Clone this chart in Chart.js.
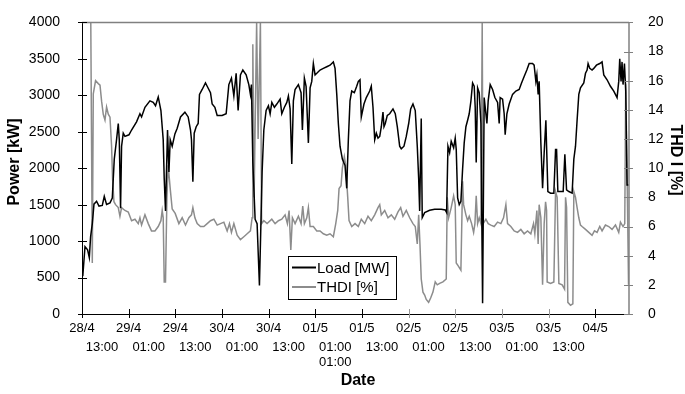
<!DOCTYPE html>
<html><head><meta charset="utf-8">
<script src="https://cdn.jsdelivr.net/npm/chart.js@4.4.1/dist/chart.umd.min.js"></script>
<style>html,body{margin:0;padding:0;background:#fff}#wrap{width:685px;height:394px;position:relative}</style>
</head><body><div id="wrap"><canvas id="c" width="685" height="394"></canvas></div>
<script>
// Hours since 28/4 13:00
const loadHours = [0.2,0.77,1.44,1.88,2.21,2.65,3.08,3.75,4.37,5.22,5.73,6.32,7.20,7.79,8.30,8.89,9.33,9.59,9.92,10.18,10.61,11.05,12.08,12.75,14.03,14.90,15.32,16.19,17.47,18.32,18.91,19.61,20.30,20.89,21.15,21.48,22.00,22.36,22.69,23.20,23.90,24.49,25.34,26.47,27.31,27.91,28.16,28.52,28.86,29.37,29.88,30.22,30.91,31.76,32.20,33.05,33.48,34.18,34.77,36.05,37.08,37.77,38.44,39.06,39.65,40.16,40.75,41.37,42.22,42.91,43.32,43.58,43.94,44.53,45.04,45.64,46.00,46.33,46.77,47.36,47.95,48.39,48.83,49.49,50.11,50.96,51.39,52.06,52.68,53.09,53.53,53.96,54.37,54.81,55.66,56.35,56.69,57.20,57.64,58.23,58.67,59.10,59.51,59.95,60.39,61.23,62.08,62.96,63.80,64.65,65.09,65.53,65.94,66.37,66.97,67.66,68.09,68.51,68.94,69.38,70.05,70.66,71.08,71.51,71.84,72.53,73.13,74.00,74.41,74.85,75.29,75.70,76.14,76.58,76.99,77.42,77.68,78.01,78.53,79.14,79.99,80.58,81.10,81.71,82.12,82.82,83.41,84.03,84.54,85.13,85.72,86.24,86.60,86.85,87.26,87.52,88.14,89.42,90.71,92.40,93.43,93.79,94.13,94.56,94.97,95.59,96.00,96.26,96.62,97.03,97.46,97.90,98.31,98.75,99.19,99.60,100.04,100.47,100.88,101.14,101.40,101.76,102.17,102.61,103.04,103.45,103.89,104.15,104.48,105.00,105.61,106.20,106.90,107.31,107.56,108.18,108.59,108.85,109.29,109.88,110.75,111.60,112.45,113.06,113.73,114.42,115.02,115.89,116.30,116.74,117.00,117.33,117.59,118.03,118.47,118.88,119.32,119.50,119.83,120.53,121.37,121.81,122.07,122.40,123.10,123.77,124.20,124.64,125.23,126.07,126.51,126.94,127.35,127.79,128.22,129.07,129.51,129.92,130.18,130.61,131.20,131.64,132.33,133.18,133.77,134.21,135.06,135.93,136.78,137.63,138.06,138.32,138.66,138.91,139.17,139.53,139.86,140.20,140.63];
const loadValues = [520,924,880,773,1057,1240,1507,1547,1480,1489,1613,1502,1524,1591,2124,2391,2613,2391,1450,2302,2480,2436,2458,2524,2636,2747,2703,2836,2924,2902,2857,2977,2791,2391,1857,1413,2524,1947,2391,2302,2470,2547,2703,2769,2703,2524,2391,1813,2480,2569,2613,3013,3080,3169,3124,3036,2880,2836,2724,2724,2747,3147,3236,2991,3302,2791,3280,3347,3280,3147,3013,3147,2080,1300,1240,391,1191,1947,2524,2791,2857,2747,2902,2836,2880,2947,2747,2836,2902,2991,2813,2058,2924,3080,3147,3036,2524,3236,3124,2347,3102,3191,3436,3280,3302,3347,3369,3391,3413,3458,3369,3013,2613,2302,2124,2036,1724,2391,2924,3058,3036,3124,3191,3213,2703,2880,2969,3058,3124,2836,2391,2480,2413,2436,2569,2769,2569,2613,2724,2747,2813,2747,2569,2302,2267,2302,2436,2613,2813,2880,2791,2302,1857,1413,2680,1324,1391,1422,1436,1436,1427,1391,2302,2213,2369,2280,2413,2258,1591,1502,1547,1991,2347,2569,2658,2747,2924,3169,3124,2836,2080,3102,3036,2613,147,2969,2747,2613,2924,3147,3080,2969,2902,2613,2969,2947,2747,2458,2747,2880,3013,3058,3080,3169,3258,3347,3436,3436,3413,3191,3280,3013,3191,2347,1724,2213,2658,2302,1680,1658,1658,2258,2258,1680,1680,1680,2191,1702,1680,1658,2124,2302,2658,3013,3102,3169,3302,3347,3436,3369,3347,3369,3413,3436,3458,3280,3213,3124,3058,2969,3191,3502,3191,3458,3147,3436,3058,1769,1769];
const thdiHours = [2.26,2.65,2.90,3.49,4.19,4.63,5.04,5.47,5.91,6.32,6.76,7.20,7.61,7.86,8.22,8.63,9.33,9.76,10.18,11.05,11.90,12.75,13.62,14.47,14.90,15.32,16.19,17.04,17.88,18.76,19.61,20.30,20.63,20.89,21.15,21.48,21.84,22.17,22.69,23.20,23.97,24.92,25.77,26.62,27.49,28.16,28.52,29.04,29.63,30.48,31.35,32.20,33.05,33.92,34.77,35.62,36.49,37.34,37.93,38.44,39.06,39.91,40.75,41.63,42.48,43.32,43.76,43.94,44.27,44.92,45.30,45.89,46.20,46.77,47.61,48.82,49.67,50.52,51.39,52.24,52.83,53.27,53.71,54.12,54.81,55.66,56.35,56.78,57.20,57.82,58.23,58.67,59.51,60.39,61.23,62.08,62.96,63.80,64.65,65.27,65.78,66.12,66.63,66.97,67.48,67.84,68.35,68.69,69.38,70.23,71.08,71.84,72.72,73.57,74.41,75.29,76.14,76.58,76.99,77.86,78.71,79.56,80.43,81.28,81.97,82.56,83.41,84.28,85.13,85.72,86.24,86.60,86.93,87.26,87.70,88.14,88.55,89.16,89.68,90.27,90.86,91.38,91.99,92.84,93.69,93.95,94.31,94.97,95.59,96.00,96.26,96.77,97.46,97.90,98.16,98.75,99.19,99.60,100.22,100.73,101.07,101.40,101.76,102.17,102.61,102.94,103.17,103.89,104.48,105.17,106.02,106.90,107.74,108.43,109.03,109.46,110.31,111.16,112.03,112.88,113.73,114.60,115.45,116.14,116.48,117.00,117.33,117.59,118.03,118.47,118.88,119.24,119.50,119.65,120.53,121.37,121.81,122.22,122.66,123.51,124.12,124.38,124.64,124.97,125.66,126.26,126.51,126.94,127.35,127.79,128.22,128.63,129.51,130.36,131.20,131.82,132.49,133.18,133.77,134.64,135.49,136.34,137.22,138.06,138.50,139.17,139.61,139.86,140.25,140.58];
const thdiValues = [20,3.5,15.1,16.0,15.8,15.7,14.6,13.7,13.3,14.2,13.7,13.5,11.5,9.3,7.7,7.5,7.3,6.7,7.3,7.1,7.0,6.4,6.5,6.2,6.6,6.1,6.8,6.2,5.7,5.7,6.0,6.4,7.1,6.6,2.2,2.2,8.0,10.2,8.6,7.2,6.9,6.2,6.6,6.1,6.6,6.8,7.3,6.6,6.2,6.0,6.0,6.2,6.4,6.5,6.1,6.2,6.3,5.7,6.2,5.6,6.2,5.4,5.1,5.3,5.5,5.7,6.6,18.5,8.0,20,12,20,6.2,6.4,6.2,6.5,6.2,6.4,6.5,6.8,6.2,7.1,4.4,6.6,6.2,6.7,6.2,7.4,6.2,6.6,7.3,6.0,6.0,5.7,5.7,5.5,5.4,5.5,5.3,6.2,7.1,8.6,8.8,10.0,10.8,10.2,8.0,6.4,6.0,6.2,6.0,6.5,6.2,6.7,6.4,6.8,7.3,7.5,6.8,7.1,6.6,6.8,6.5,7.0,7.3,6.7,7.1,6.6,6.2,6.0,4.8,6.8,4.8,2.4,1.5,1.3,1.0,0.8,1.1,1.5,2.2,2.0,2.1,2.2,2.4,8.0,6.6,7.3,8.1,7.5,3.5,3.3,3.0,9.1,7.5,6.8,6.4,6.7,6.2,5.6,6.2,8.1,6.2,6.6,6.2,20,6.2,6.5,6.2,6.1,6.0,6.3,6.2,6.6,7.5,6.2,6.0,5.7,5.6,5.8,5.5,5.7,5.5,6.2,5.5,7.1,4.8,7.5,6.6,2.0,6.2,7.7,7.1,2.2,2.1,2.2,8.4,8.0,2.1,2.0,1.7,8.0,7.3,0.8,0.6,0.7,8.4,8.0,7.3,6.6,6.1,6.0,5.8,5.6,5.4,5.7,5.6,6.0,5.7,6.1,6.0,5.8,6.1,5.6,6.3,6.0,6.2,15.8,8.8,2.0];
const xTickHours = [0,12,24,36,48,60,72,84,96,108,120,132];
const xTickDates = ['28/4','29/4','29/4','30/4','30/4','01/5','01/5','02/5','02/5','03/5','03/5','04/5'];
const xTickTimes = ['13:00','01:00','13:00','01:00','13:00','01:00','13:00','01:00','13:00','01:00','13:00',''];
const xTickExtra = ['','','','','','01:00','','','','','',''];
const seriesNames = ['Load [MW]','THDI [%]'];
const leftTitle = 'Power [kW]';
const rightTitle = 'THD I [%]';
const bottomTitle = 'Date';

const FONT = '"Liberation Sans", Arial, sans-serif';
const BLACK = '#000000', GRAY = '#8c8c8c', AXGRAY = '#808080';

const decor = {
  id: 'decor',
  afterDraw(chart) {
    const ctx = chart.ctx, xs = chart.scales.x, yl = chart.scales.y, yr = chart.scales.y2;
    const a = chart.chartArea;
    ctx.save();
    ctx.strokeStyle = AXGRAY; ctx.lineWidth = 1.5;
    ctx.beginPath(); ctx.moveTo(a.left, a.top); ctx.lineTo(a.right, a.top); ctx.stroke();
    ctx.beginPath(); ctx.moveTo(a.right, a.top); ctx.lineTo(a.right, a.bottom); ctx.stroke();
    ctx.lineWidth = 1;
    yl.ticks.forEach(t => { const y = Math.round(yl.getPixelForValue(t.value)) + 0.5; ctx.strokeStyle = BLACK; ctx.beginPath(); ctx.moveTo(a.left - 4, y); ctx.lineTo(a.left + 5, y); ctx.stroke(); });
    yr.ticks.forEach(t => { const y = Math.round(yr.getPixelForValue(t.value)) + 0.5; ctx.strokeStyle = AXGRAY; ctx.beginPath(); ctx.moveTo(a.right - 5, y); ctx.lineTo(a.right + 4, y); ctx.stroke(); });
    xTickHours.forEach((h, i) => {
      const x = Math.round(xs.getPixelForValue(h)) + 0.5;
      ctx.strokeStyle = (i >= 7 && i <= 10) ? '#999999' : BLACK;
      ctx.beginPath(); ctx.moveTo(x, a.bottom - 5); ctx.lineTo(x, a.bottom + 4); ctx.stroke();
    });
    ctx.fillStyle = BLACK; ctx.font = '13px ' + FONT; ctx.textAlign = 'center'; ctx.textBaseline = 'middle';
    xTickHours.forEach((h, i) => {
      const x = xs.getPixelForValue(h);
      ctx.fillText(xTickDates[i], x, 328);
      if (xTickTimes[i]) ctx.fillText(xTickTimes[i], x + 20, 347.5);
      if (xTickExtra[i]) ctx.fillText(xTickExtra[i], x + 20, 362.5);
    });
    ctx.font = 'bold 16px ' + FONT;
    ctx.fillText(bottomTitle, 358, 381);
    ctx.save(); ctx.translate(15, 162); ctx.rotate(-Math.PI / 2); ctx.fillText(leftTitle, 0, 0); ctx.restore();
    ctx.save(); ctx.translate(675, 160); ctx.rotate(Math.PI / 2); ctx.fillText(rightTitle, 0, 0); ctx.restore();
    const lx = 288, ly = 256, lw = 108, lh = 43;
    ctx.fillStyle = '#fff'; ctx.fillRect(lx, ly, lw, lh);
    ctx.strokeStyle = BLACK; ctx.lineWidth = 1; ctx.strokeRect(lx + 0.5, ly + 0.5, lw, lh);
    const rows = [[chart.data.datasets[0], 267.5], [chart.data.datasets[1], 287]];
    ctx.font = '15px ' + FONT; ctx.textAlign = 'left'; ctx.fillStyle = BLACK;
    rows.forEach(([ds, y]) => {
      ctx.strokeStyle = ds.borderColor; ctx.lineWidth = 2;
      ctx.beginPath(); ctx.moveTo(292, y); ctx.lineTo(316, y); ctx.stroke();
      ctx.fillText(ds.label, 317, y + 1);
    });
    ctx.restore();
  }
};

new Chart(document.getElementById('c'), {
  type: 'line',
  data: {
    datasets: [
      { label: seriesNames[0], data: loadHours.map((h, i) => ({ x: h, y: loadValues[i] })), yAxisID: 'y', borderColor: BLACK, borderWidth: 1.5, pointRadius: 0, tension: 0, fill: false },
      { label: seriesNames[1], data: thdiHours.map((h, i) => ({ x: h, y: thdiValues[i] })), yAxisID: 'y2', borderColor: GRAY, borderWidth: 1.5, pointRadius: 0, tension: 0, fill: false }
    ]
  },
  options: {
    responsive: false, animation: false, devicePixelRatio: 1,
    layout: { padding: { top: 14, left: 0, right: 0, bottom: 0 } },
    plugins: { legend: { display: false }, tooltip: { enabled: false } },
    scales: {
      x: { type: 'linear', min: 0, max: 140.7, grid: { display: false }, ticks: { display: false },
           border: { display: true, color: BLACK, width: 1 },
           afterFit: s => { s.height = 80; } },
      y: { position: 'left', min: 0, max: 4000, grid: { display: false },
           ticks: { stepSize: 500, color: BLACK, font: { size: 14, family: FONT }, padding: 14, callback: v => String(v) },
           border: { display: true, color: BLACK, width: 1 },
           afterFit: s => { s.width = 82; } },
      y2: { position: 'right', min: 0, max: 20, grid: { display: false },
            ticks: { stepSize: 2, color: BLACK, font: { size: 14, family: FONT }, padding: 11, callback: v => String(v) },
            border: { display: false },
            afterFit: s => { s.width = 56; } }
    }
  },
  plugins: [decor]
});
</script></body></html>
